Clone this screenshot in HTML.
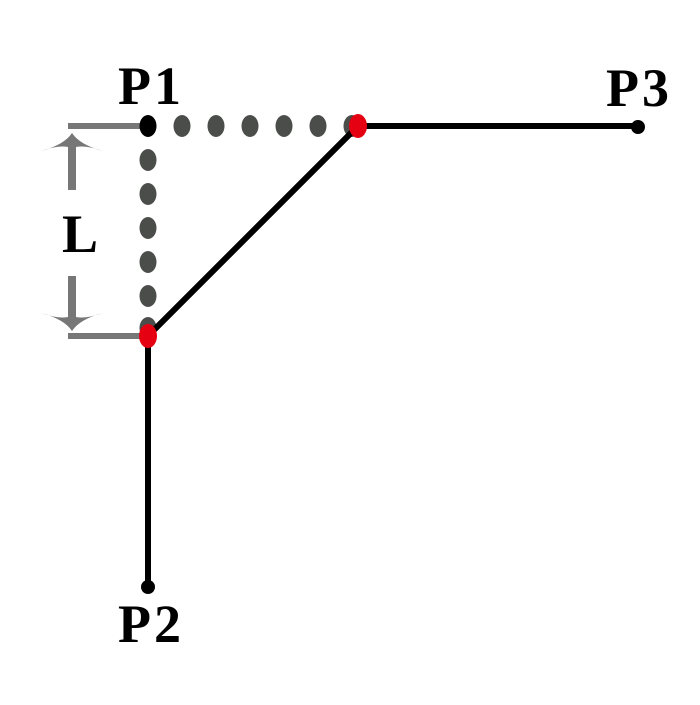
<!DOCTYPE html>
<html><head><style>body{margin:0;background:#fff}</style></head><body>
<svg width="700" height="700" viewBox="0 0 700 700" xmlns="http://www.w3.org/2000/svg">
<rect width="700" height="700" fill="#fff"/>
<g fill="#777">
<rect x="68" y="123" width="80" height="6"/>
<rect x="68" y="333" width="80" height="6"/>
<rect x="68" y="144" width="8" height="46"/>
<path d="M72 133 Q80 145 103 151 Q86 145 76 147 L68 147 Q58 145 41 151 Q64 145 72 133Z"/>
<rect x="68" y="276" width="8" height="44"/>
<path d="M72 331 Q80 319 103 313 Q86 319 76 317 L68 317 Q58 319 41 313 Q64 319 72 331Z"/>
</g>
<g fill="#4b4d4b">
<ellipse cx="182" cy="126" rx="8.5" ry="11"/><ellipse cx="216" cy="126" rx="8.5" ry="11"/>
<ellipse cx="250" cy="126" rx="8.5" ry="11"/><ellipse cx="284" cy="126" rx="8.5" ry="11"/>
<ellipse cx="318" cy="126" rx="8.5" ry="11"/><ellipse cx="352" cy="126" rx="8.5" ry="11"/>
<ellipse cx="148" cy="160" rx="8.5" ry="11"/><ellipse cx="148" cy="194" rx="8.5" ry="11"/>
<ellipse cx="148" cy="228" rx="8.5" ry="11"/><ellipse cx="148" cy="262" rx="8.5" ry="11"/>
<ellipse cx="148" cy="296" rx="8.5" ry="11"/><ellipse cx="148" cy="328" rx="8.5" ry="11"/>
</g>
<ellipse cx="148" cy="126" rx="8.5" ry="11" fill="#000"/>
<polyline points="148,587 148,336 358,126 638,126" fill="none" stroke="#000" stroke-width="6"/>
<circle cx="148" cy="587" r="7" fill="#000"/>
<circle cx="638" cy="127" r="7" fill="#000"/>
<ellipse cx="358" cy="126" rx="9" ry="12" fill="#e50012"/>
<ellipse cx="148" cy="336" rx="9" ry="12" fill="#e50012"/>
<g font-family="Liberation Serif, serif" font-weight="bold" font-size="54" fill="#000" letter-spacing="3">
<text x="118" y="104">P1</text>
<text x="606" y="106">P3</text>
<text x="118" y="642">P2</text>
<text x="62" y="252" letter-spacing="0">L</text>
</g>
</svg>
</body></html>
